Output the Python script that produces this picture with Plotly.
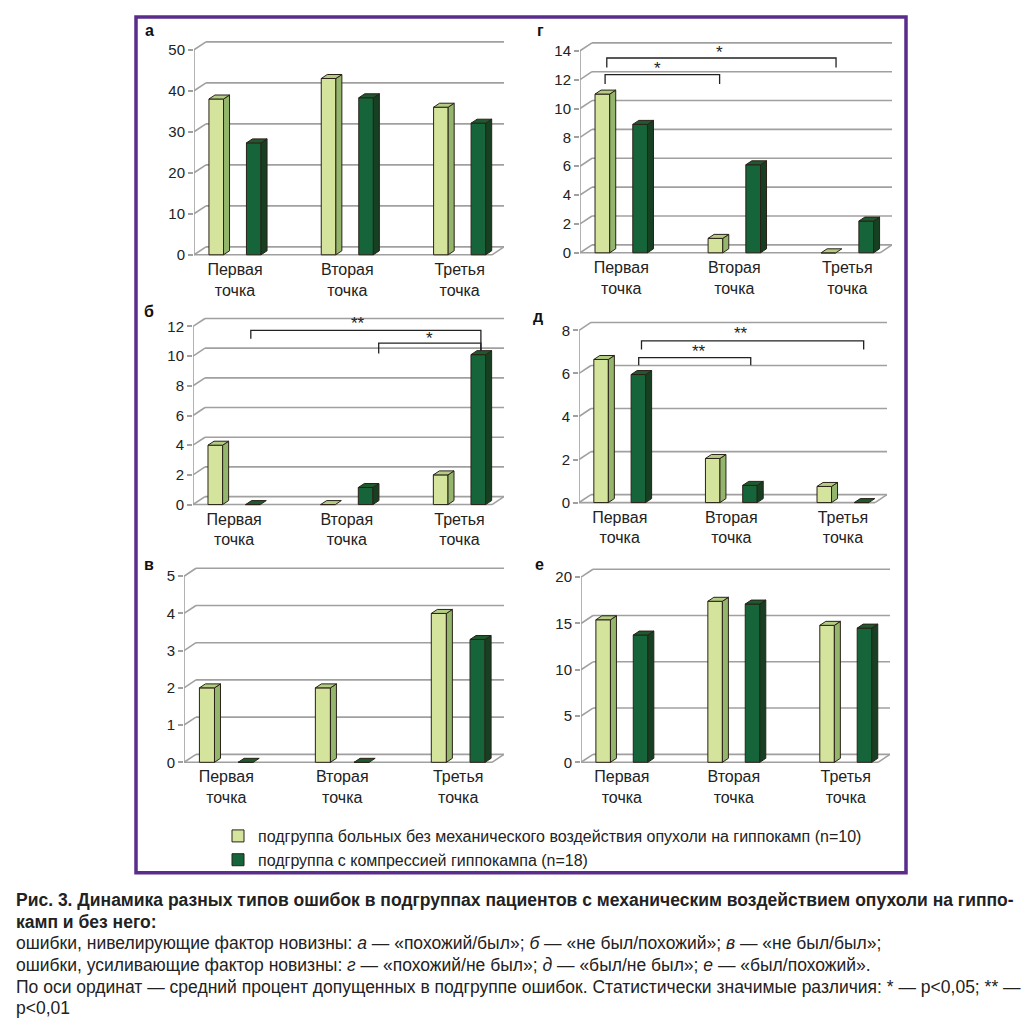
import plotly.graph_objects as go

# page body has an 8px margin; lay out in page pixels and convert
PAGE_OFF = 8
FW, FH = 1036 - PAGE_OFF, 1032 - PAGE_OFF


def px(xp):
    return (xp - PAGE_OFF) / FW


def py(yp):
    return 1 - (yp - PAGE_OFF) / FH


# ---------------- data ----------------
categories = ["Первая<br>точка", "Вторая<br>точка", "Третья<br>точка"]
series_names = [
    "подгруппа больных без механического воздействия опухоли на гиппокамп (n=10)",
    "подгруппа с компрессией гиппокампа (n=18)",
]

a_light = [38.0, 43.0, 36.0]
a_dark = [27.3, 38.3, 32.1]
b_light = [4.0, 0.0, 2.0]
b_dark = [0.0, 1.15, 10.1]
v_light = [2.0, 2.0, 4.0]
v_dark = [0.0, 0.0, 3.3]
g_light = [11.0, 1.0, 0.0]
g_dark = [8.9, 6.1, 2.2]
d_light = [6.65, 2.05, 0.75]
d_dark = [5.95, 0.8, 0.0]
e_light = [15.4, 17.4, 14.8]
e_dark = [13.75, 17.1, 14.5]

a_ticks = [0, 10, 20, 30, 40, 50]
b_ticks = [0, 2, 4, 6, 8, 10, 12]
v_ticks = [0, 1, 2, 3, 4, 5]
g_ticks = [0, 2, 4, 6, 8, 10, 12, 14]
d_ticks = [0, 2, 4, 6, 8]
e_ticks = [0, 5, 10, 15, 20]

# significance brackets: (x_left, x_right, y, left leg bottom, right leg bottom, label, label x, label y)
b_brackets = [(0.148, 2.19, 11.73, 11.17, 10.37, "**", 1.10, 12.2),
              (1.283, 2.19, 10.88, 10.17, 10.37, "*", 1.73, 11.2)]
g_brackets = [(-0.128, 1.90, 13.5, 12.85, 12.85, "*", 0.87, 13.85),
              (-0.143, 0.87, 12.35, 11.7, 11.7, "*", 0.32, 12.75)]
d_brackets = [(0.195, 2.186, 7.51, 7.11, 7.11, "**", 1.087, 7.85),
              (0.17, 1.174, 6.74, 6.385, 6.385, "**", 0.71, 7.0)]

caption_lines = [
    "<b>Рис. 3. Динамика разных типов ошибок в подгруппах пациентов с механическим воздействием опухоли на гиппо-</b>",
    "<b>камп и без него:</b>",
    "ошибки, нивелирующие фактор новизны: <i>а</i> — «похожий/был»; <i>б</i> — «не был/похожий»; <i>в</i> — «не был/был»;",
    "ошибки, усиливающие фактор новизны: <i>г</i> — «похожий/не был»; <i>д</i> — «был/не был»; <i>е</i> — «был/похожий».",
    "По оси ординат — средний процент допущенных в подгруппе ошибок. Статистически значимые различия: * — p&lt;0,05; ** —",
    "p&lt;0,01",
]

# ---------------- layout / style ----------------
panels = [
    dict(letter="а", light=a_light, dark=a_dark, ticks=a_ticks, br=[], ax=194, gr=504, y0=256, yt=50, lx=149, ly=31),
    dict(letter="б", light=b_light, dark=b_dark, ticks=b_ticks, br=b_brackets, ax=193, gr=504, y0=507, yt=328, lx=149, ly=313),
    dict(letter="в", light=v_light, dark=v_dark, ticks=v_ticks, br=[], ax=184, gr=504, y0=766, yt=579, lx=149, ly=567),
    dict(letter="г", light=g_light, dark=g_dark, ticks=g_ticks, br=g_brackets, ax=580, gr=892, y0=254, yt=51, lx=540, ly=31),
    dict(letter="д", light=d_light, dark=d_dark, ticks=d_ticks, br=d_brackets, ax=579, gr=887, y0=505, yt=332, lx=538, ly=318),
    dict(letter="е", light=e_light, dark=e_dark, ticks=e_ticks, br=[], ax=581, gr=890, y0=766, yt=580, lx=539, ly=567),
]

XR = (-0.365, 2.395)
PB, PT = 3, 18          # px padding below 0 / above max
WALL_DX, WALL_DY = 12, 8
BAR_DX, BAR_DY = 6, 4
BW = 0.13
OFF = 0.167
GRID = "#A0A0A0"
EDGE = "#2A2118"
TXT = "#222222"
FONT = "Liberation Sans, Arial, sans-serif"

styles = [
    dict(front="#D4E49C", side="#93B66C", top="#B3CE84"),
    dict(front="#16653A", side="#173F22", top="#1F5A2E"),
]

fig = go.Figure()
shapes = []
annotations = []

for k, p in enumerate(panels):
    n = k + 1
    xa = "x" if n == 1 else f"x{n}"
    ya = "y" if n == 1 else f"y{n}"
    vmax = p["ticks"][-1]
    ppx = (p["gr"] - p["ax"]) / (XR[1] - XR[0])
    ppu = (p["y0"] - p["yt"]) / vmax
    ylo = -PB / ppu
    yhi = vmax + PT / ppu
    dxw, dyw = WALL_DX / ppx, WALL_DY / ppu
    dxb, dyb = BAR_DX / ppx, BAR_DY / ppu

    xkey = "xaxis" if n == 1 else f"xaxis{n}"
    ykey = "yaxis" if n == 1 else f"yaxis{n}"
    fig.layout[xkey] = dict(
        domain=[px(p["ax"]), px(p["gr"])], range=list(XR), anchor=ya,
        tickvals=[0, 1, 2], ticktext=categories, ticks="", showline=False,
        showgrid=False, zeroline=False, tickfont=dict(size=16, color=TXT, family=FONT),
        fixedrange=True,
    )
    fig.layout[ykey] = dict(
        domain=[py(p["y0"] + PB), py(p["yt"] - PT)], range=[ylo, yhi],
        anchor=xa, tickvals=p["ticks"], ticks="outside", ticklen=5, tickwidth=1.5,
        tickcolor=GRID, showline=False, showgrid=False, zeroline=False,
        tickfont=dict(size=15, color=TXT, family=FONT), fixedrange=True,
    )

    def line(x0, y0, x1, y1, color=GRID, width=1.6):
        shapes.append(dict(type="line", xref=xa, yref=ya, x0=x0, y0=y0, x1=x1, y1=y1,
                           line=dict(color=color, width=width), layer="below"))

    # front axis
    line(XR[0], 0, XR[0], vmax)
    # back wall gridlines with diagonals
    for t in p["ticks"]:
        line(XR[0], t, XR[0] + dxw, t + dyw)
        line(XR[0] + dxw, t + dyw, XR[1], t + dyw)
    # floor front edge
    line(XR[0], 0, XR[1] - dxw, 0)
    line(XR[1] - dxw, 0, XR[1], dyw)

    # bars
    for s, (vals, off) in enumerate([(p["light"], -OFF), (p["dark"], OFF)]):
        st = styles[s]
        xs = [i + off for i in range(len(vals))]
        fig.add_trace(go.Bar(
            x=xs, y=vals, width=BW, xaxis=xa, yaxis=ya,
            marker=dict(color=st["front"], line=dict(color=EDGE, width=1)),
            name=series_names[s], showlegend=(k == 0), legendrank=s + 1,
            hoverinfo="skip",
        ))
        sx, sy, tx, ty = [], [], [], []
        for xc, v in zip(xs, vals):
            xl, xr = xc - BW / 2, xc + BW / 2
            if v > 0:
                sx += [xr, xr + dxb, xr + dxb, xr, xr, None]
                sy += [0, dyb, v + dyb, v, 0, None]
            tx += [xl, xl + dxb, xr + dxb, xr, xl, None]
            ty += [v, v + dyb, v + dyb, v, v, None]
        fig.add_trace(go.Scatter(x=sx, y=sy, xaxis=xa, yaxis=ya, mode="lines", fill="toself",
                                 fillcolor=st["side"], line=dict(color=EDGE, width=1),
                                 showlegend=False, hoverinfo="skip"))
        fig.add_trace(go.Scatter(x=tx, y=ty, xaxis=xa, yaxis=ya, mode="lines", fill="toself",
                                 fillcolor=st["top"], line=dict(color=EDGE, width=1),
                                 showlegend=False, hoverinfo="skip"))

    # brackets
    for (xl, xr, yb, yl, yr, lab, lxp, lyp) in p["br"]:
        fig.add_trace(go.Scatter(x=[xl, xl, xr, xr], y=[yl, yb, yb, yr], xaxis=xa, yaxis=ya,
                                 mode="lines", line=dict(color=TXT, width=1.3),
                                 showlegend=False, hoverinfo="skip", cliponaxis=False))
        annotations.append(dict(x=lxp, y=lyp, xref=xa, yref=ya, text=lab, showarrow=False,
                                font=dict(size=17, color=TXT, family=FONT),
                                xanchor="center", yanchor="middle"))

    # panel letter
    annotations.append(dict(x=px(p["lx"]), y=py(p["ly"]), xref="paper", yref="paper",
                            text=f"<b>{p['letter']}</b>", showarrow=False,
                            font=dict(size=16, color="#111", family=FONT),
                            xanchor="center", yanchor="middle"))

# purple frame
shapes.append(dict(type="rect", xref="paper", yref="paper",
                   x0=px(136), x1=px(906), y0=py(877), y1=py(17),
                   line=dict(color="#5A2D8C", width=3.5), layer="above"))

# caption
cap_y = [904, 926, 948, 970, 992, 1013]
for txt, cy in zip(caption_lines, cap_y):
    annotations.append(dict(x=px(14), y=py(cy), xref="paper", yref="paper", text=txt,
                            showarrow=False, xanchor="left", yanchor="middle", align="left",
                            font=dict(size=17.5, color=TXT, family=FONT)))

fig.update_layout(
    width=FW, height=FH, margin=dict(l=0, r=0, t=0, b=0),
    paper_bgcolor="white", plot_bgcolor="rgba(0,0,0,0)",
    barmode="overlay", shapes=shapes, annotations=annotations,
    showlegend=True,
    legend=dict(x=px(218), y=py(823), xanchor="left", yanchor="top",
                font=dict(size=16, color=TXT, family=FONT), bgcolor="rgba(0,0,0,0)",
                itemwidth=30, tracegroupgap=0),
)

fig.write_html("out.html")
